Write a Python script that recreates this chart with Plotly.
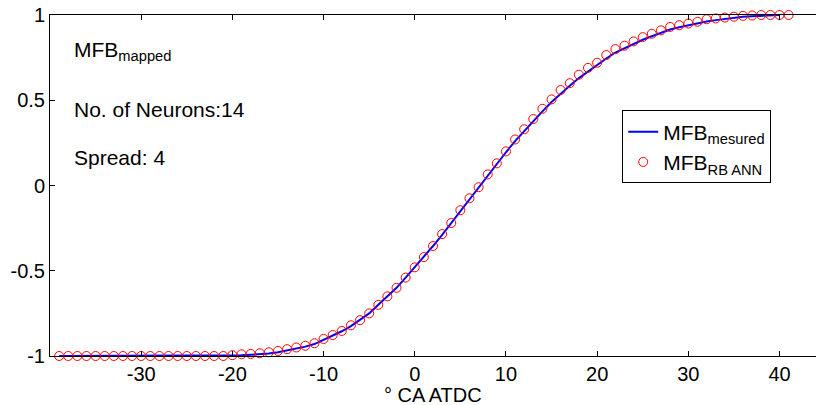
import plotly.graph_objects as go

# crank angle (deg ATDC)
x_ann = list(range(-39, 42))
x_meas = list(range(-39, 41))

# MFB predicted by the RB ANN (red circles)
mfb_ann = [
    -1.0, -1.0, -1.0, -1.0, -1.0, -1.0, -1.0, -1.0, -1.0, -1.0,
    -1.0, -1.0, -1.0, -1.0, -1.0, -1.0, -1.0, -1.0, -1.0,
    -0.995, -0.99, -0.988, -0.984, -0.978, -0.97, -0.96, -0.95,
    -0.94, -0.925, -0.90, -0.877, -0.853, -0.82, -0.79, -0.75,
    -0.70, -0.65, -0.60, -0.54, -0.48, -0.42, -0.355, -0.285,
    -0.22, -0.145, -0.075, -0.01, 0.065, 0.13, 0.20, 0.27, 0.33,
    0.39, 0.45, 0.505, 0.56, 0.60, 0.65, 0.69, 0.72, 0.765, 0.80,
    0.82, 0.845, 0.87, 0.89, 0.91, 0.93, 0.94, 0.95, 0.96, 0.975,
    0.98, 0.985, 0.99, 0.995, 0.997, 1.0, 1.0, 1.0, 1.0,
]

# measured MFB (blue line)
mfb_meas = [
    -1.0, -1.0, -1.0, -1.0, -1.0, -1.0, -1.0, -1.0, -1.0, -1.0,
    -1.0, -1.0, -1.0, -1.0, -1.0, -1.0, -1.0, -1.0, -1.0,
    -0.998, -0.996, -0.993, -0.99, -0.985, -0.978, -0.968, -0.957,
    -0.945, -0.93, -0.905, -0.88, -0.855, -0.825, -0.79, -0.75,
    -0.70, -0.65, -0.60, -0.54, -0.48, -0.42, -0.355, -0.29,
    -0.22, -0.15, -0.08, -0.015, 0.06, 0.125, 0.195, 0.26, 0.32,
    0.38, 0.435, 0.49, 0.54, 0.585, 0.63, 0.67, 0.705, 0.745, 0.78,
    0.805, 0.83, 0.855, 0.875, 0.895, 0.915, 0.928, 0.94, 0.952,
    0.962, 0.97, 0.978, 0.985, 0.99, 0.993, 0.996, 0.998, 1.0,
]

x_ticks = [-30, -20, -10, 0, 10, 20, 30, 40]
x_labels = ["-30", "-20", "-10", "0", "10", "20", "30", "40"]
y_ticks = [-1, -0.5, 0, 0.5, 1]
y_labels = ["-1", "-0.5", "0", "0.5", "1"]

notes = ["MFB<sub>mapped</sub>", "No. of Neurons:14", "Spread: 4"]
note_y = [0.79, 0.443, 0.167]

font = "Liberation Sans, Arial, sans-serif"

fig = go.Figure()
fig.add_trace(go.Scatter(
    x=x_meas, y=mfb_meas, mode="lines",
    line=dict(color="#0000FF", width=2),
    name="MFB<sub>mesured</sub>",
))
fig.add_trace(go.Scatter(
    x=x_ann, y=mfb_ann, mode="markers",
    marker=dict(symbol="circle-open", size=9, color="#FF0000",
                line=dict(width=1, color="#FF0000")),
    name="MFB<sub>RB ANN</sub>",
    cliponaxis=False,
))

for txt, yy in zip(notes, note_y):
    fig.add_annotation(x=-37.6, y=yy, text=txt, showarrow=False,
                       xanchor="left", yanchor="middle",
                       font=dict(size=21, color="black", family=font))

# x axis title as a paper annotation so it sits where the reference has it
fig.add_annotation(x=0.5, y=-0.114, xref="paper", yref="paper",
                   text="° CA ATDC", showarrow=False,
                   xanchor="center", yanchor="middle",
                   font=dict(size=20, color="black", family=font))

fig.update_layout(
    width=816, height=405,
    margin=dict(l=50, r=0, t=15, b=49, autoexpand=False),
    paper_bgcolor="white", plot_bgcolor="white",
    font=dict(family=font, size=20, color="black"),
    showlegend=True,
    legend=dict(
        x=0.747, y=0.72, xanchor="left", yanchor="top",
        bordercolor="black", borderwidth=1, bgcolor="white",
        font=dict(size=21), tracegroupgap=0,
    ),
    xaxis=dict(
        range=[-40, 44], tickvals=x_ticks, ticktext=x_labels,
        showline=True, linecolor="black", linewidth=1, mirror="ticks",
        ticks="inside", ticklen=5, tickcolor="black", showgrid=False,
        zeroline=False, automargin=False,
    ),
    yaxis=dict(
        range=[-1, 1], tickvals=y_ticks, ticktext=y_labels,
        showline=True, linecolor="black", linewidth=1,
        ticks="inside", ticklen=5, tickcolor="black", showgrid=False,
        zeroline=False, automargin=False,
    ),
)

# page body has a default 8px margin; drop it so the figure fills the window
fig.write_html("out.html", config={"displayModeBar": False},
               post_script="document.body.style.margin='0';")
